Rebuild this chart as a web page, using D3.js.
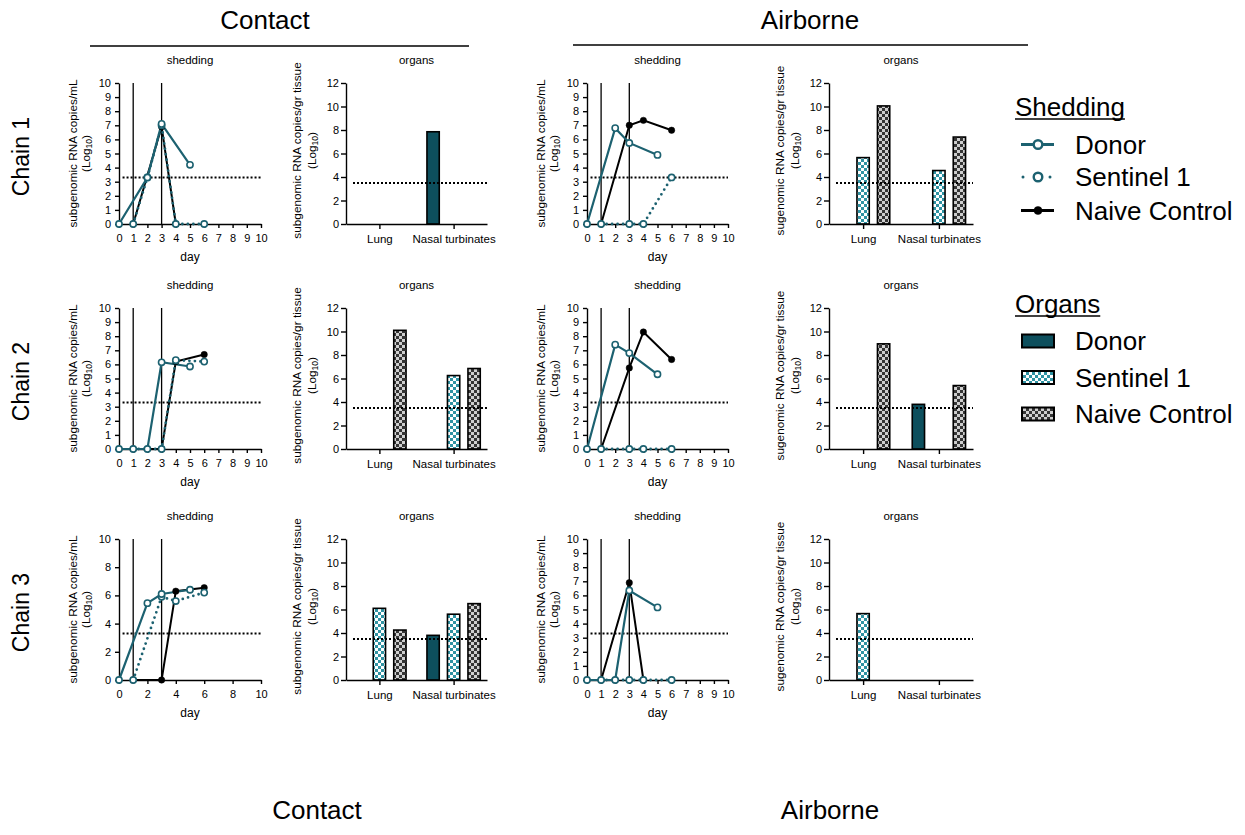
<!DOCTYPE html>
<html><head><meta charset="utf-8">
<script src="https://cdn.jsdelivr.net/npm/d3@7"></script>
<style>
body{margin:0;background:#fff}
text{font-family:"Liberation Sans",Arial,Helvetica,sans-serif;fill:#000}
</style>
</head><body>
<svg id="c" width="1245" height="835"></svg>
<script>
// ---------------- DATA ----------------
const seriesNames = ["Donor", "Sentinel 1", "Naive Control"];
const organCategories = ["Lung", "Nasal turbinates"];
const dayTicks = [0,1,2,3,4,5,6,7,8,9,10];
const dayTicksEven = [0,2,4,6,8,10];
const sheddingTicks = [0,1,2,3,4,5,6,7,8,9,10];
const sheddingTicksEven = [0,2,4,6,8,10];
const organTicks = [0,2,4,6,8,10,12];
const sheddingLimit = 3.3;
const organLimit = 3.5;
const exposureDays = [1, 3];

// shedding: [day, log10 copies/mL]
const c1ContactDonor    = [[0,0],[2,3.3],[3,7.1],[5,4.2]];
const c1ContactSentinel = [[1,0],[2,3.3],[3,7.0],[4,0],[6,0]];
const c1ContactNaive    = [[1,0],[3,6.9],[4,0]];
const c1AirDonor        = [[0,0],[2,6.8],[3,5.75],[5,4.9]];
const c1AirSentinel     = [[1,0],[3,0],[4,0],[6,3.3]];
const c1AirNaive        = [[1,0],[3,7.0],[4,7.35],[6,6.65]];
const c2ContactDonor    = [[0,0],[2,0],[3,6.15],[5,5.85]];
const c2ContactSentinel = [[1,0],[3,0],[4,6.3],[6,6.2]];
const c2ContactNaive    = [[1,0],[3,0],[4,6.2],[6,6.7]];
const c2AirDonor        = [[0,0],[2,7.4],[3,6.8],[5,5.3]];
const c2AirSentinel     = [[1,0],[3,0],[4,0],[6,0]];
const c2AirNaive        = [[1,0],[3,5.75],[4,8.3],[6,6.35]];
const c3ContactDonor    = [[0,0],[2,5.45],[3,6.1],[5,6.4]];
const c3ContactSentinel = [[1,0],[3,5.9],[4,5.6],[6,6.2]];
const c3ContactNaive    = [[1,0],[3,0],[4,6.3],[6,6.55]];
const c3AirDonor        = [[0,0],[2,0],[3,6.35],[5,5.15]];
const c3AirSentinel     = [[1,0],[3,0],[4,0],[6,0]];
const c3AirNaive        = [[1,0],[3,6.9],[4,0]];

// organs: per series (Donor, Sentinel 1, Naive Control), values for [Lung, Nasal turbinates]
const c1ContactOrgans = [[null,7.85],[null,null],[null,null]];
const c1AirOrgans     = [[null,null],[5.65,4.55],[10.05,7.4]];
const c2ContactOrgans = [[null,null],[null,6.25],[10.1,6.85]];
const c2AirOrgans     = [[null,3.8],[null,null],[8.95,5.4]];
const c3ContactOrgans = [[null,3.8],[6.1,5.6],[4.25,6.5]];
const c3AirOrgans     = [[null,null],[5.65,null],[null,null]];

const chainLabels = ["Chain 1", "Chain 2", "Chain 3"];
const routeLabels = ["Contact", "Airborne"];

// ---------------- LAYOUT ----------------
const svg = d3.select("#c");
const teal = "#1c6170";
const donorFill = "#0d4f5d";
const H = 141;
const rowY0 = [224, 449, 680];
const colX = {
  contact: {shed:[119,261], org:[346,487]},
  airborne:{shed:[587,728], org:[829,973]}
};
const panels = [
  {row:0, route:"contact",  shed:[c1ContactDonor,c1ContactSentinel,c1ContactNaive], org:c1ContactOrgans},
  {row:0, route:"airborne", shed:[c1AirDonor,c1AirSentinel,c1AirNaive], org:c1AirOrgans},
  {row:1, route:"contact",  shed:[c2ContactDonor,c2ContactSentinel,c2ContactNaive], org:c2ContactOrgans},
  {row:1, route:"airborne", shed:[c2AirDonor,c2AirSentinel,c2AirNaive], org:c2AirOrgans},
  {row:2, route:"contact",  shed:[c3ContactDonor,c3ContactSentinel,c3ContactNaive], org:c3ContactOrgans, even:true},
  {row:2, route:"airborne", shed:[c3AirDonor,c3AirSentinel,c3AirNaive], org:c3AirOrgans}
];

const defs = svg.append("defs");
function checker(id, dark, light, s){
  const p = defs.append("pattern").attr("id",id).attr("patternUnits","userSpaceOnUse")
    .attr("width",2*s).attr("height",2*s);
  p.append("rect").attr("width",2*s).attr("height",2*s).attr("fill",light);
  p.append("rect").attr("width",s).attr("height",s).attr("fill",dark);
  p.append("rect").attr("x",s).attr("y",s).attr("width",s).attr("height",s).attr("fill",dark);
}
checker("chkSent","#2f93a3","#ffffff",3);
checker("chkNaive","#353535","#cfcfcf",3);
const barFills = [donorFill, "url(#chkSent)", "url(#chkNaive)"];

function styleAxis(g, fs){
  g.selectAll("path,line").attr("stroke","#000").attr("stroke-width",1.4);
  g.selectAll("text").attr("font-size",fs).attr("font-family",'"Liberation Sans",Arial,sans-serif').attr("fill","#000");
}

function yLabel(cx1, cx2, cy, line1){
  const t1 = svg.append("text").attr("transform",`translate(${cx1},${cy}) rotate(-90)`)
    .attr("text-anchor","middle").attr("dominant-baseline","central").attr("font-size",11.8).text(line1);
  const t2 = svg.append("text").attr("transform",`translate(${cx2},${cy}) rotate(-90)`)
    .attr("text-anchor","middle").attr("dominant-baseline","central").attr("font-size",11.8);
  t2.append("tspan").text("(Log");
  t2.append("tspan").attr("font-size",8.5).attr("dy",3).text("10");
  t2.append("tspan").attr("dy",-3).text(")");
}

const styles = [
  {stroke:teal, width:2.2, dash:null, cap:"butt", open:true},
  {stroke:teal, width:2.8, dash:"0,5.5", cap:"round", open:true},
  {stroke:"#000", width:2, dash:null, cap:"butt", open:false}
];

panels.forEach(p => {
  const y0 = rowY0[p.row];
  const cx = colX[p.route];
  // ---- shedding ----
  const x = d3.scaleLinear().domain([0,10]).range(cx.shed);
  const y = d3.scaleLinear().domain([0,10]).range([y0, y0-H]);
  const gx = svg.append("g").attr("transform",`translate(0,${y0})`)
    .call(d3.axisBottom(x).tickValues(p.even?dayTicksEven:dayTicks).tickSize(4).tickSizeOuter(0).tickPadding(6).tickFormat(d3.format("d")));
  styleAxis(gx, 11);
  const gy = svg.append("g").attr("transform",`translate(${cx.shed[0]},0)`)
    .call(d3.axisLeft(y).tickValues(p.even?sheddingTicksEven:sheddingTicks).tickSize(4).tickSizeOuter(0).tickPadding(4).tickFormat(d3.format("d")));
  styleAxis(gy, 11);
  // exposure lines
  svg.selectAll(null).data(exposureDays).enter().append("line")
    .attr("x1",d=>x(d)).attr("x2",d=>x(d)).attr("y1",y(0)).attr("y2",y(10))
    .attr("stroke","#000").attr("stroke-width",1.3);
  // limit
  svg.append("line").attr("x1",x(0.25)).attr("x2",x(10)).attr("y1",y(sheddingLimit)).attr("y2",y(sheddingLimit))
    .attr("stroke","#000").attr("stroke-width",2).attr("stroke-dasharray","2,2");
  const line = d3.line().x(d=>x(d[0])).y(d=>y(d[1]));
  [2,1,0].forEach(i => {
    const s = styles[i], data = p.shed[i];
    svg.append("path").attr("d",line(data)).attr("fill","none").attr("stroke",s.stroke)
      .attr("stroke-width",s.width).attr("stroke-dasharray",s.dash).attr("stroke-linecap",s.cap);
  });
  [2,1,0].forEach(i => {
    const s = styles[i];
    svg.selectAll(null).data(p.shed[i]).enter().append("circle")
      .attr("cx",d=>x(d[0])).attr("cy",d=>y(d[1]))
      .attr("r", s.open?3.1:3.2)
      .attr("fill", s.open?"#fff":"#000")
      .attr("stroke", s.open?teal:"#000").attr("stroke-width", s.open?1.6:0.5);
  });
  svg.append("text").attr("x",(cx.shed[0]+cx.shed[1])/2).attr("y",y0-H-19)
    .attr("text-anchor","middle").attr("font-size",11.5).text("shedding");
  svg.append("text").attr("x",(cx.shed[0]+cx.shed[1])/2).attr("y",y0+37)
    .attr("text-anchor","middle").attr("font-size",12).text("day");
  yLabel(cx.shed[0]-46, cx.shed[0]-33, y0-H/2, "subgenomic RNA copies/mL");

  // ---- organs ----
  const xo = d3.scalePoint().domain(organCategories).range(cx.org).padding(0.45);
  const xs = d3.scaleBand().domain(seriesNames).range([-30.75,30.75]).paddingInner(0.4).paddingOuter(0.2);
  const yo = d3.scaleLinear().domain([0,12]).range([y0, y0-H]);
  const bars = [];
  p.org.forEach((vals, si) => vals.forEach((v, ci) => { if (v!=null) bars.push({si, cat:organCategories[ci], v}); }));
  svg.selectAll(null).data(bars).enter().append("rect")
    .attr("x",d=>xo(d.cat)+xs(seriesNames[d.si]))
    .attr("width",xs.bandwidth())
    .attr("y",d=>yo(d.v)).attr("height",d=>yo(0)-yo(d.v))
    .attr("fill",d=>barFills[d.si]).attr("stroke","#000").attr("stroke-width",1.6);
  svg.append("line").attr("x1",cx.org[0]+7).attr("x2",cx.org[1]).attr("y1",yo(organLimit)).attr("y2",yo(organLimit))
    .attr("stroke","#000").attr("stroke-width",2).attr("stroke-dasharray","2,2");
  const gxo = svg.append("g").attr("transform",`translate(0,${y0})`)
    .call(d3.axisBottom(xo).tickSize(5).tickSizeOuter(0).tickPadding(6));
  styleAxis(gxo, 11.5);
  const gyo = svg.append("g").attr("transform",`translate(${cx.org[0]},0)`)
    .call(d3.axisLeft(yo).tickValues(organTicks).tickSize(5).tickSizeOuter(0).tickPadding(2).tickFormat(d3.format("d")));
  styleAxis(gyo, 11);
  svg.append("text").attr("x",(cx.org[0]+cx.org[1])/2).attr("y",y0-H-19)
    .attr("text-anchor","middle").attr("font-size",11.5).text("organs");
  yLabel(cx.org[0]-49, cx.org[0]-34, y0-H/2-3,
    p.route==="contact" ? "subgenomic RNA copies/gr tissue" : "sugenomic RNA copies/gr tissue");
});

// headers
svg.append("text").attr("x",265).attr("y",29).attr("text-anchor","middle").attr("font-size",26).text(routeLabels[0]);
svg.append("text").attr("x",810).attr("y",29).attr("text-anchor","middle").attr("font-size",26).text(routeLabels[1]);
svg.append("line").attr("x1",90).attr("x2",469).attr("y1",46).attr("y2",46).attr("stroke","#000").attr("stroke-width",1.3);
svg.append("line").attr("x1",573).attr("x2",1028).attr("y1",45).attr("y2",45).attr("stroke","#000").attr("stroke-width",1.3);
svg.append("text").attr("x",317).attr("y",819).attr("text-anchor","middle").attr("font-size",26).text(routeLabels[0]);
svg.append("text").attr("x",830).attr("y",819).attr("text-anchor","middle").attr("font-size",26).text(routeLabels[1]);
// chain labels
rowY0.forEach((y0,i) => {
  svg.append("text").attr("transform",`translate(29,${y0-H/2+3}) rotate(-90)`)
    .attr("text-anchor","middle").attr("font-size",23).text(chainLabels[i]);
});

// legend
function legendTitle(txt, yb){
  const t = svg.append("text").attr("x",1015).attr("y",yb).attr("font-size",26).text(txt);
  const w = t.node().getComputedTextLength();
  svg.append("line").attr("x1",1015).attr("x2",1015+w).attr("y1",yb+3).attr("y2",yb+3).attr("stroke","#000").attr("stroke-width",1.5);
}
legendTitle("Shedding", 116);
const shedLegY = [144.5, 177, 210.5];
seriesNames.forEach((n,i) => {
  const s = styles[i], yy = shedLegY[i];
  svg.append("line").attr("x1", i===1?1023:1021).attr("x2",1054).attr("y1",yy).attr("y2",yy)
    .attr("stroke",s.stroke).attr("stroke-width", i===1?3:3.2).attr("stroke-dasharray", i===1?"0,13.5":null)
    .attr("stroke-linecap", i===1?"round":"butt");
  svg.append("circle").attr("cx",1038).attr("cy",yy).attr("r", s.open?4.3:4)
    .attr("fill", s.open?"#fff":"#000").attr("stroke", s.open?teal:"#000").attr("stroke-width", s.open?2.4:0.5);
  svg.append("text").attr("x",1075).attr("y",yy+9).attr("font-size",26).text(n);
});
legendTitle("Organs", 313);
const orgLegY = [341, 377.5, 414];
seriesNames.forEach((n,i) => {
  const yy = orgLegY[i];
  svg.append("rect").attr("x",1022).attr("y",yy-6.5).attr("width",32).attr("height",13)
    .attr("fill",barFills[i]).attr("stroke","#000").attr("stroke-width",2);
  svg.append("text").attr("x",1075).attr("y",yy+9).attr("font-size",26).text(n);
});
</script>
</body></html>
